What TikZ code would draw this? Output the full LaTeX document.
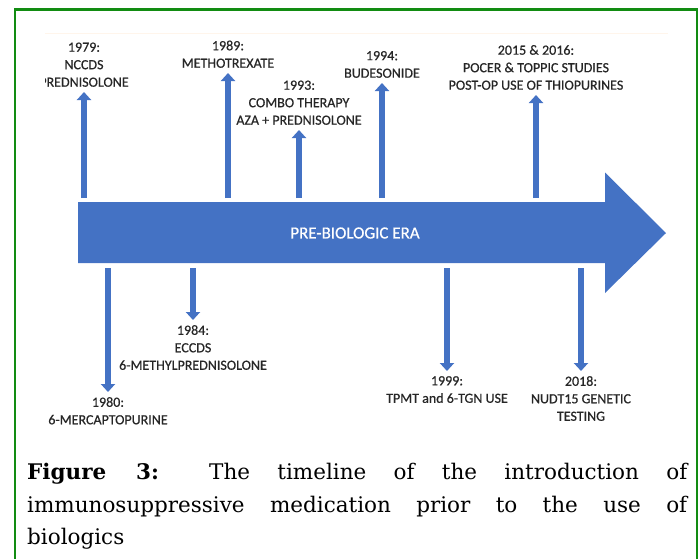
\documentclass[tikz,border=0pt]{standalone}
\usepackage{fontspec}
\setmainfont{DejaVu Serif}
\newfontfamily\labelfont[FakeBold=0.6]{Carlito}
\usepackage{tikz}
\usetikzlibrary{arrows.meta}
\definecolor{eraBlue}{HTML}{4472C4}
\definecolor{frameGreen}{HTML}{128C12}

\begin{document}
\begin{tikzpicture}[x=1pt,y=-1pt]
            \tikzstyle{event}=[inner sep=0pt, align=center, text=black!85, font=\labelfont\fontsize{14pt}{17.5pt}\selectfont]
            \tikzstyle{stem}=[line width=6pt, eraBlue, -{Triangle[width=14pt,length=8pt]}, shorten >=5pt]
            \tikzstyle{capline}=[anchor=base west, inner sep=0pt, font=\fontsize{21.5pt}{32pt}\selectfont]
            \useasboundingbox (0,0) rectangle (699,558);
            \draw[frameGreen, line width=2.5pt] (15,565) -- (15,9.5) -- (697,9.5) -- (697,565);
            \begin{scope}
                \clip (45,0) rectangle (699,558);
                \draw[orange!8, line width=1pt] (45,33) -- (668,33);
                \fill[eraBlue] (78,202) -- (605,202) -- (605,172.5) -- (666,233) -- (605,293) -- (605,263) -- (78,263) -- cycle;
                \node[text=white, font=\labelfont\fontsize{17pt}{20pt}\selectfont] (era) at (355,233) {PRE-BIOLOGIC ERA};
                \coordinate (above) at (0,198);
                \coordinate (below) at (0,268);
                \node[event, anchor=south] (n1979) at (84,87) {1979:\\NCCDS\\PREDNISOLONE};
                \node[event, anchor=south] (n1989) at (228,68) {1989:\\METHOTREXATE};
                \node[event, anchor=south] (n1993) at (299,125) {1993:\\COMBO THERAPY\\AZA + PREDNISOLONE};
                \node[event, anchor=south] (n1994) at (382,78) {1994:\\BUDESONIDE};
                \node[event, anchor=south] (n2015) at (536,90) {2015 \& 2016:\\POCER \& TOPPIC STUDIES\\POST-OP USE OF THIOPURINES};
                \node[event, anchor=north] (n1980) at (108,397) {1980:\\6-MERCAPTOPURINE};
                \node[event, anchor=north] (n1984) at (193,325) {1984:\\ECCDS\\6-METHYLPREDNISOLONE};
                \node[event, anchor=north] (n1999) at (447,376) {1999:\\TPMT and 6-TGN USE};
                \node[event, anchor=north] (n2018) at (581,376) {2018:\\NUDT15 GENETIC\\TESTING};
                \draw[stem] (n1979 |- above) -- (n1979);
                \draw[stem] (n1989 |- above) -- (n1989);
                \draw[stem] (n1993 |- above) -- (n1993);
                \draw[stem] (n1994 |- above) -- (n1994);
                \draw[stem] (n2015 |- above) -- (n2015);
                \draw[stem] (n1980 |- below) -- (n1980);
                \draw[stem] (n1984 |- below) -- (n1984);
                \draw[stem] (n1999 |- below) -- (n1999);
                \draw[stem] (n2018 |- below) -- (n2018);
            \end{scope}
            \node[capline] (cap1) at (27,479) {\makebox[660pt][s]{\textbf{Figure 3:} The timeline of the introduction of}};
            \node[capline] (cap2) at (27,512) {\makebox[660pt][s]{immunosuppressive medication prior to the use of}};
            \node[capline] (cap3) at (27,544) {biologics};
        \end{tikzpicture}
\end{document}
